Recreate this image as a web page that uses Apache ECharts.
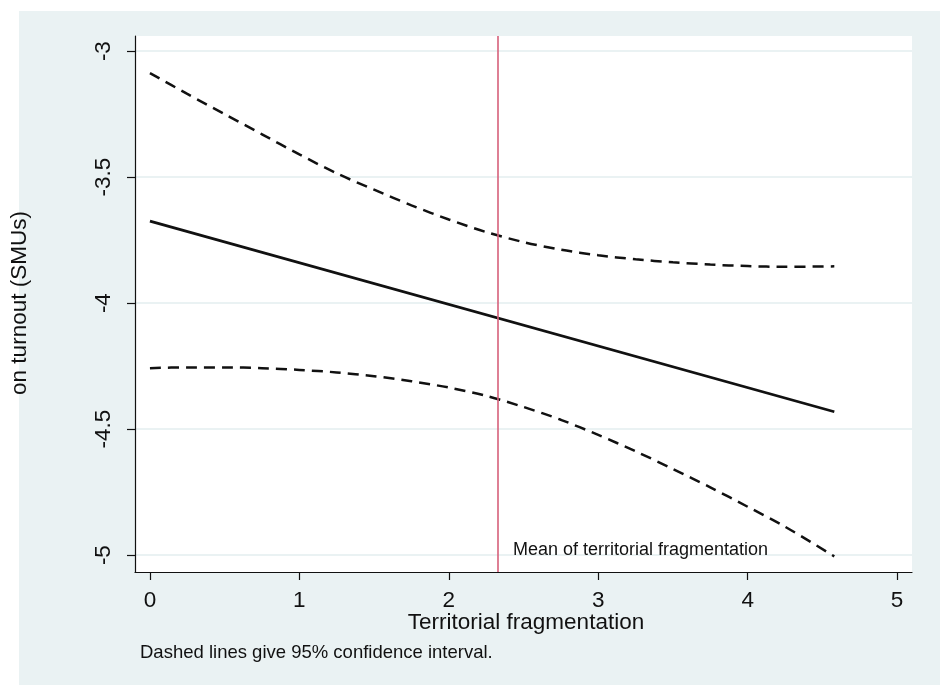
<!DOCTYPE html>
<html>
<head>
<meta charset="utf-8">
<title>Marginal effect of territorial fragmentation</title>
<script src="https://cdn.jsdelivr.net/npm/echarts@6/dist/echarts.min.js"></script>
<style>
  html, body { margin: 0; padding: 0; background: #ffffff; }
  #chart { width: 940px; height: 685px; }
</style>
</head>
<body>
<div id="chart"></div>
<script>
// values
const X_TICKS = [0, 1, 2, 3, 4, 5];
const Y_TICKS = [-5, -4.5, -4, -3.5, -3];

const CI_X = [0, 0.25, 0.5, 0.75, 1, 1.25, 1.5, 1.75, 2, 2.25, 2.5, 2.75, 3, 3.25, 3.5, 3.75, 4, 4.25, 4.58];
const UPPER = [-3.087, -3.17, -3.25, -3.33, -3.41, -3.485, -3.55, -3.612, -3.668, -3.718, -3.758, -3.788, -3.81, -3.826, -3.838, -3.847, -3.853, -3.856, -3.854];
const LOWER = [-4.258, -4.255, -4.255, -4.258, -4.265, -4.275, -4.29, -4.31, -4.335, -4.368, -4.412, -4.463, -4.523, -4.588, -4.658, -4.731, -4.808, -4.887, -5.005];

const EFFECT_X = [0, 4.58];
const EFFECT = [-3.675, -4.431];

const MEAN_FRAG = 2.335;

const FONT = "Liberation Sans, Arial, Helvetica, sans-serif";
const INK = "#111111";
const PANEL = "#eaf2f3";

function pairs(xs, ys) {
  return xs.map((x, i) => [x, ys[i]]);
}

function dashedSeries(name, values) {
  return {
    name,
    type: "line",
    data: pairs(CI_X, values),
    smooth: 0.3,
    symbol: "none",
    lineStyle: { color: INK, width: 2.5, type: [11, 7] },
    z: 3
  };
}

const chart = echarts.init(document.getElementById("chart"), null, { renderer: "canvas" });

chart.setOption({
  animation: false,
  backgroundColor: "#ffffff",
  graphic: [
    {
      type: "rect",
      z: -10,
      shape: { x: 19, y: 11, width: 921, height: 674 },
      style: { fill: PANEL }
    },
    {
      type: "rect",
      z: -9,
      shape: { x: 135, y: 36, width: 777, height: 536 },
      style: { fill: "#ffffff" }
    },
    {
      type: "text",
      x: 20,
      y: 303,
      rotation: Math.PI / 2,
      style: {
        text: "on turnout (SMUs)",
        font: "22.5px " + FONT,
        fill: INK,
        align: "center",
        verticalAlign: "middle"
      }
    },
    {
      type: "text",
      x: 526,
      y: 623,
      style: {
        text: "Territorial fragmentation",
        font: "22.5px " + FONT,
        fill: INK,
        align: "center",
        verticalAlign: "middle"
      }
    },
    {
      type: "text",
      left: 513,
      top: 541,
      z: 10,
      style: {
        text: "Mean of territorial fragmentation",
        font: "18px " + FONT,
        fill: INK
      }
    },
    {
      type: "text",
      left: 140,
      top: 643,
      style: {
        text: "Dashed lines give 95% confidence interval.",
        font: "18.5px " + FONT,
        fill: INK
      }
    }
  ],
  grid: { left: 135, right: 28, top: 36, bottom: 113, containLabel: false },
  xAxis: {
    type: "value",
    min: -0.1,
    max: 5.1,
    axisLine: { show: true, onZero: false, lineStyle: { color: INK, width: 1.2 } },
    axisTick: { show: true, length: 8, customValues: X_TICKS, lineStyle: { color: INK, width: 1.2 } },
    axisLabel: { customValues: X_TICKS, margin: 17, fontFamily: FONT, fontSize: 22.5, color: INK },
    splitLine: { show: false }
  },
  yAxis: {
    type: "value",
    min: -5.067,
    max: -2.94,
    axisLine: { show: true, onZero: false, lineStyle: { color: INK, width: 1.2 } },
    axisTick: { show: true, length: 8, customValues: Y_TICKS, lineStyle: { color: INK, width: 1.2 } },
    axisLabel: { customValues: Y_TICKS, rotate: 90, margin: 20, fontFamily: FONT, fontSize: 22.5, color: INK },
    splitLine: { show: true, lineStyle: { color: PANEL, width: 2 } }
  },
  series: [
    dashedSeries("Upper bound", UPPER),
    dashedSeries("Lower bound", LOWER),
    {
      name: "Marginal effect",
      type: "line",
      data: pairs(EFFECT_X, EFFECT),
      symbol: "none",
      lineStyle: { color: INK, width: 2.8 },
      z: 3,
      markLine: {
        silent: true,
        symbol: "none",
        label: { show: false },
        lineStyle: { color: "#d6607a", width: 1.6, type: "solid" },
        data: [{ xAxis: MEAN_FRAG }]
      }
    }
  ]
});
</script>
</body>
</html>
